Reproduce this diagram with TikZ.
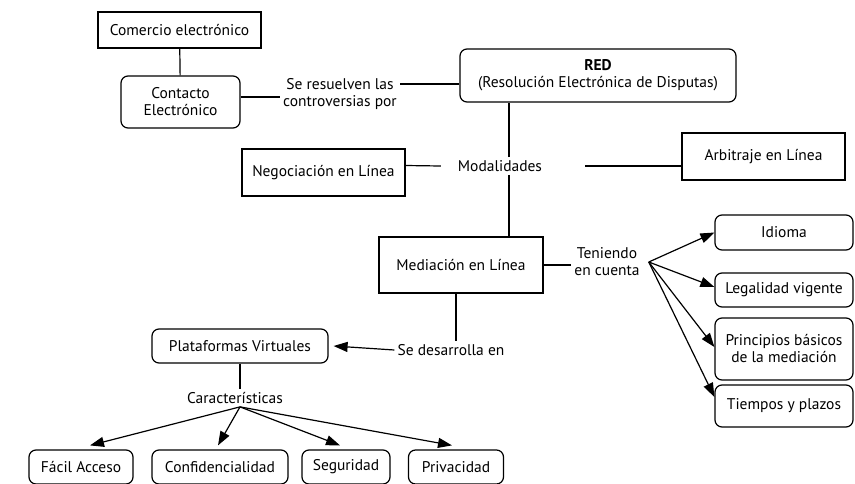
\documentclass[tikz,border=0pt]{standalone}
\usepackage{fontspec}
\setmainfont{PT Sans}
\usepackage{tikz}
\usetikzlibrary{arrows.meta,positioning}

\begin{document}
\begin{tikzpicture}[
    x=1pt, y=-1pt,
    font=\fontsize{15.5}{17}\selectfont,
    sqbox/.style={draw, line width=1.2pt, align=center, inner sep=2pt},
    rbox/.style={sqbox, rounded corners=7pt},
    lbl/.style={align=center, inner sep=3pt},
    myedge/.style={line width=1.2pt},
    myarrow/.style={line width=1.2pt, -{Triangle[length=14pt,width=10pt]}}
]
\useasboundingbox (0,0) rectangle (855,483);

% top part
\node[sqbox, minimum width=163pt, minimum height=36pt] (comercio) at (179.5,30) {Comercio electrónico};
\node[rbox, minimum width=119pt, minimum height=52pt] (contacto) at (180.5,102) {Contacto\\Electrónico};
\node[lbl] (resuelven) at (340,94) {Se resuelven las\\controversias por};
\node[rbox, minimum width=276pt, minimum height=53pt] (red) at (598,75.5) {\textbf{RED}\\(Resolución Electrónica de Disputas)};

% modalidades
\node[lbl] (modal) at (500,166) {Modalidades};
\node[sqbox, minimum width=163pt, minimum height=47pt] (negoc) at (323.5,172.5) {Negociación en Línea};
\node[sqbox, minimum width=163pt, minimum height=47pt] (arbit) at (763.5,156.5) {Arbitraje en Línea};
\node[sqbox, minimum width=164pt, minimum height=56pt] (mediac) at (461,265) {Mediación en Línea};

% teniendo en cuenta
\node[lbl] (teniendo) at (607,262) {Teniendo\\en cuenta};
\coordinate (fork) at ([xshift=6pt]teniendo.east);
\node[rbox, minimum width=138pt, minimum height=35pt] (idioma) at (784,232.5) {Idioma};
\node[rbox, minimum width=138pt, minimum height=34pt] (legal) at (784,290) {Legalidad vigente};
\node[rbox, minimum width=138pt, minimum height=62pt] (princ) at (784,349) {Principios básicos\\de la mediación};
\node[rbox, minimum width=138pt, minimum height=42pt] (tiempos) at (784,406) {Tiempos y plazos};

% plataformas
\node[lbl] (desarrolla) at (451,350) {Se desarrolla en};
\node[rbox, minimum width=176pt, minimum height=34pt] (plataf) at (240,346) {Plataformas Virtuales};
\node[lbl] (caract) at (235,398) {Características};
\coordinate (fork2) at ([xshift=5pt]caract.south);
\node[rbox, minimum width=104pt, minimum height=34pt] (facil) at (81,467) {Fácil Acceso};
\node[rbox, minimum width=136pt, minimum height=34pt] (confid) at (220,467) {Confidencialidad};
\node[rbox, minimum width=88pt, minimum height=34pt] (segur) at (346,467) {Seguridad};
\node[rbox, minimum width=95pt, minimum height=34pt] (priv) at (456,467) {Privacidad};

\draw[myedge] (comercio) -- (contacto);
\draw[myedge] ([yshift=5pt]contacto.east) -- ([yshift=5pt]contacto.east -| resuelven.west);
\draw[myedge] ([yshift=-8.5pt]red.west) -- ([yshift=-8.5pt]red.west -| resuelven.east);
\draw[myedge] ([xshift=9pt]modal.north) -- ([xshift=9pt]modal.north |- red.south);
\draw[myedge] ([xshift=9pt]modal.south) -- ([xshift=9pt]modal.south |- mediac.north);
\draw[myedge] ([yshift=7pt]negoc.east) -- ([xshift=-14pt]modal.west);
\draw[myedge] ([xshift=40pt]modal.east) -- (modal.east -| arbit.west);
\draw[myedge] (mediac.east) -- (mediac.east -| teniendo.west);

\draw[myarrow] (fork) -- (idioma.west);
\draw[myarrow] (fork) -- ([yshift=3pt]legal.west);
\draw[myarrow] (fork) -- ([yshift=2pt]princ.west);
\draw[myarrow] (fork) -- ([yshift=9pt]tiempos.west);

\draw[myedge] ([xshift=-5pt]mediac.south) -- ([xshift=-5pt]mediac.south |- desarrolla.north);
\draw[myarrow] (desarrolla.west) -- ([xshift=5pt]plataf.east);
\draw[myedge] (plataf.south) -- (plataf.south |- caract.north);

\draw[myarrow] (fork2) -- ([xshift=9pt,yshift=4pt]facil.north);
\draw[myarrow] (fork2) -- ([xshift=-2pt,yshift=4pt]confid.north);
\draw[myarrow] (fork2) -- ([xshift=-6pt,yshift=4pt]segur.north);
\draw[myarrow] (fork2) -- ([xshift=-4pt,yshift=4pt]priv.north);
\end{tikzpicture}
\end{document}
